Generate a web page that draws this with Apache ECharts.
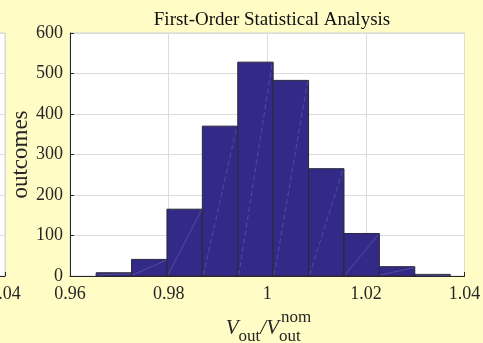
<!DOCTYPE html>
<html><head><meta charset="utf-8">
<script src="https://cdn.jsdelivr.net/npm/echarts@6/dist/echarts.min.js"></script>
<style>html,body{margin:0;padding:0;background:#fffcc6;}#c{width:483px;height:343px;}</style>
</head><body><div id="c"></div>
<script>
const binEdges = [0.9653, 0.97248, 0.97966, 0.98684, 0.99402, 1.0012, 1.00838, 1.01556, 1.02274, 1.02992, 1.0371];
const counts = [8, 41, 165, 370, 528, 483, 265, 105, 23, 4];
const xTicks = [0.96, 0.98, 1, 1.02, 1.04];
const yTicks = [0, 100, 200, 300, 400, 500, 600];
const titleText = 'First-Order Statistical Analysis';
const yName = 'outcomes';

const FONT = 'Liberation Serif';
const data = counts.map((c, i) => [binEdges[i], binEdges[i + 1], c]);

const chart = echarts.init(document.getElementById('c'), null, {renderer: 'canvas'});
const axisLabelStyle = {color: '#262626', fontFamily: FONT, fontSize: 18};
function xAxisDef(gi, showName) {
  return {
    type: 'value', gridIndex: gi, min: xTicks[0], max: xTicks[xTicks.length - 1], interval: 0.02,
    axisLine: {show: true, onZero: false, lineStyle: {color: '#262626', width: 1}},
    axisTick: {show: true, inside: true, length: 4, lineStyle: {color: '#262626'}},
    axisLabel: Object.assign({margin: 9, formatter: v => String(+v.toFixed(2))}, axisLabelStyle),
    splitLine: {show: true, lineStyle: {color: '#dcdcdc', width: 1}},
    name: showName ? '{i|V}{s|out}{i|/V}{s|out}{sp|}' : '',
    nameLocation: 'middle', nameGap: 42,
    nameTextStyle: {rich: {
      i: {fontFamily: FONT, fontStyle: 'italic', fontSize: 21, color: '#262626', verticalAlign: 'bottom'},
      s: {fontFamily: FONT, fontSize: 17, color: '#262626', verticalAlign: 'bottom', padding: [0, 0, -6, 0]},
      sp: {width: 8}
    }}
  };
}
function yAxisDef(gi, showName) {
  return {
    type: 'value', gridIndex: gi, min: yTicks[0], max: yTicks[yTicks.length - 1], interval: 100,
    axisLine: {show: true, lineStyle: {color: '#262626', width: 1}},
    axisTick: {show: true, inside: true, length: 4, lineStyle: {color: '#262626'}},
    axisLabel: Object.assign({margin: 7}, axisLabelStyle),
    splitLine: {show: true, lineStyle: {color: '#dcdcdc', width: 1}},
    name: showName ? yName : '', nameLocation: 'middle', nameGap: 38, nameMoveOverlap: false,
    nameTextStyle: {fontFamily: FONT, fontSize: 23, color: '#262626'}
  };
}
chart.setOption({
  backgroundColor: '#fffcc6',
  animation: false,
  title: {text: titleText, left: 267, textAlign: 'center', top: 6,
    textStyle: {fontFamily: FONT, fontSize: 19, fontWeight: 'normal', color: '#111'}},
  grid: [
    {left: 70, right: 18.5, top: 33, bottom: 67, show: true, backgroundColor: '#fff', borderColor: '#d0d0d0', borderWidth: 1, outerBoundsMode: 'none', containLabel: false},
    {left: -389.5, width: 394.5, top: 33, bottom: 67, show: true, backgroundColor: '#fff', borderColor: '#d0d0d0', borderWidth: 1, outerBoundsMode: 'none', containLabel: false}
  ],
  xAxis: [xAxisDef(0, true), xAxisDef(1, false)],
  yAxis: [yAxisDef(0, true), yAxisDef(1, false)],
  graphic: [{type: 'text', left: 281, top: 309, z: 10,
    style: {text: 'nom', fontFamily: FONT, fontSize: 17, fill: '#262626'}}],
  series: [{
    type: 'custom', xAxisIndex: 0, yAxisIndex: 0,
    encode: {x: [0, 1], y: 2},
    data: data,
    renderItem: function (params, api) {
      const p0 = api.coord([api.value(0), api.value(2)]);
      const p1 = api.coord([api.value(1), 0]);
      const w = p1[0] - p0[0], h = p1[1] - p0[1];
      return {type: 'group', children: [
        {type: 'rect', shape: {x: p0[0], y: p0[1], width: w, height: h},
          style: {fill: '#332a87', stroke: '#2a2838', lineWidth: 1}},
        {type: 'line', shape: {x1: p0[0] + 1, y1: p1[1] - 1, x2: p1[0] - 1, y2: p0[1] + 1},
          style: {stroke: 'rgba(170,160,230,0.45)', lineWidth: 0.6, lineDash: h > 100 ? [5, 3] : null}}
      ]};
    }
  }]
});
</script></body></html>
